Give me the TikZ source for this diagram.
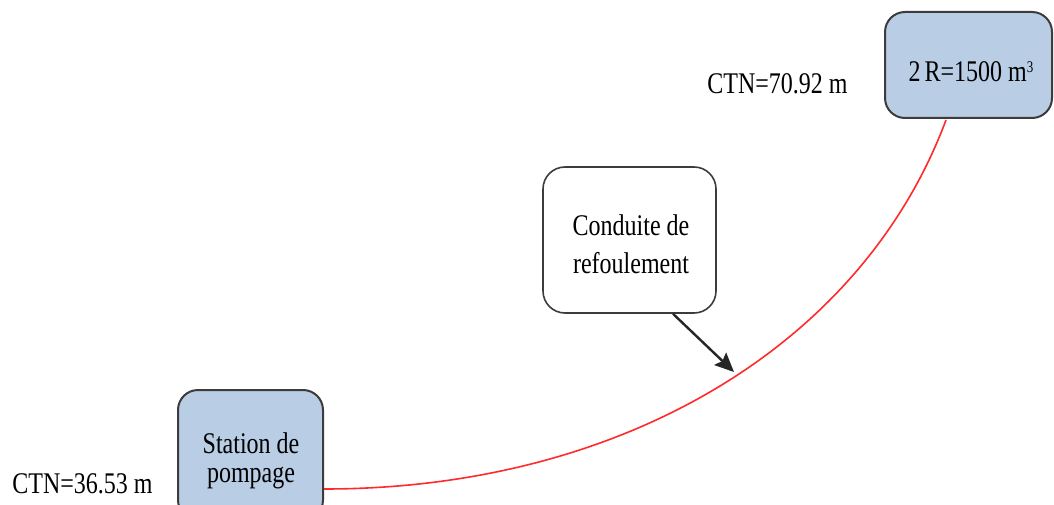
\documentclass[tikz,border=0pt]{standalone}
\usepackage{fontspec}
\setmainfont{Liberation Serif}
\usepackage{graphicx}
\usetikzlibrary{arrows.meta,calc}

% text set a little taller than wide, as in the original drawing
\newcommand\tallline[1]{\scalebox{1}[1.25]{\fontsize{24}{28}\selectfont #1}}
\newcommand\tallblock[2]{\scalebox{1}[1.25]{\fontsize{24}{#1}\selectfont\begin{tabular}{@{}c@{}}#2\end{tabular}}}
\newcommand\cubed{\raisebox{7.5pt}{\fontsize{13}{13}\selectfont 3}}

\definecolor{boxblue}{HTML}{B9CDE5}
\definecolor{boxedge}{HTML}{3C3C3C}
\definecolor{pipe}{HTML}{FF2A2A}

\tikzset{
  tank/.style={draw=boxedge, line width=2pt, fill=boxblue, rounded corners=20pt, inner sep=0pt},
  callout/.style={draw=boxedge, line width=1.6pt, fill=white, rounded corners=22pt, inner sep=0pt},
  label/.style={inner sep=0pt},
  pipeline/.style={draw=pipe, line width=1.6pt},
  pointer/.style={draw=black!85, line width=2.4pt, -{Stealth[length=19pt,width=17pt,inset=3pt]}}
}

\begin{document}
\begin{tikzpicture}[x=1pt,y=-1pt]
\useasboundingbox (0,0) rectangle (1054,505);
\clip (0,0) rectangle (1054,505);
\fill[white] (0,0) rectangle (1054,505);

% reservoir and pumping station
\node[tank, minimum width=167pt, minimum height=106pt] (res) at (968.5,65) {};
\node[label] at (971,72) {\tallline{2\,R=1500 m\cubed}};
\node[tank, minimum width=145pt, minimum height=130pt] (sta) at (250.5,455) {};
\node[label] at (251,462) {\tallblock{23.2}{Station de\\pompage}};

% ground levels
\node[label] (ctnres) at (777.5,84) {\tallline{CTN=70.92 m}};
\node[label] (ctnsta) at (82.5,484) {\tallline{CTN=36.53 m}};

% delivery main
\coordinate (pstart) at ($(sta.east)+(0,34)$);
\coordinate (pend) at ($(res.south)+(-22.5,1)$);
\draw[pipeline] (pstart) .. controls (622,489) and (862,345) .. (pend);

% callout naming the main
\node[callout, minimum width=173pt, minimum height=146pt] (note) at (629.5,240) {};
\node[label] at (631,247) {\tallblock{30.4}{Conduite de\\refoulement}};
\coordinate (tip) at (734,372);
\draw[pointer] ($(note.south)+(43.5,0)$) -- (tip);
\end{tikzpicture}
\end{document}
